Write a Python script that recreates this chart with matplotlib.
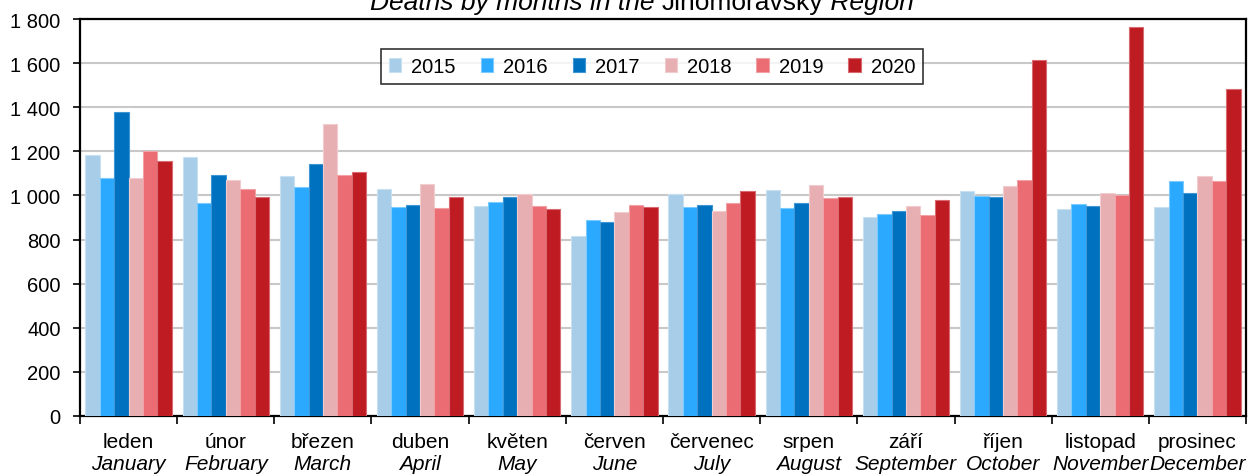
import matplotlib
matplotlib.use("Agg")
import matplotlib.pyplot as plt
import numpy as np
from matplotlib.ticker import FuncFormatter, MultipleLocator

months_cz = ["leden", "únor", "březen", "duben", "květen", "červen", "červenec",
             "srpen", "září", "říjen", "listopad", "prosinec"]
months_en = ["January", "February", "March", "April", "May", "June", "July",
             "August", "September", "October", "November", "December"]
years = ["2015", "2016", "2017", "2018", "2019", "2020"]

d2015 = [1184, 1173, 1088, 1029, 950, 817, 1008, 1023, 901, 1019, 937, 947]
d2016 = [1078, 964, 1037, 946, 970, 887, 949, 941, 916, 997, 961, 1066]
d2017 = [1380, 1094, 1144, 955, 991, 881, 955, 966, 928, 993, 950, 1011]
d2018 = [1078, 1070, 1323, 1052, 1005, 923, 928, 1046, 954, 1043, 1011, 1088]
d2019 = [1203, 1028, 1091, 941, 950, 958, 966, 987, 910, 1069, 1003, 1064]
d2020 = [1156, 994, 1105, 993, 940, 949, 1022, 993, 981, 1615, 1765, 1482]
series = [d2015, d2016, d2017, d2018, d2019, d2020]

colors = ["#A8CDE8", "#2BA9FE", "#0071BF", "#E8AFB2", "#EB6C73", "#BE1B23"]
edges = ["#C9E0F1", "#7CCBFF", "#3F96D5", "#F1CDCF", "#F2A2A6", "#D86A70"]

plt.rcParams['font.family'] = ['Liberation Sans', 'DejaVu Sans']

fig = plt.figure(figsize=(12.58, 4.77), dpi=100)
ax = fig.add_axes([80/1258, 1-417/477, 1166/1258, 397/477])

n = len(series)
bw = 0.148
x = np.arange(len(months_cz))
for i, (vals, c, ec) in enumerate(zip(series, colors, edges)):
    ax.bar(x + (i - (n-1)/2)*bw, vals, width=bw, color=c, edgecolor=ec,
           linewidth=0.8, label=years[i], zorder=3)

ax.set_xlim(-0.5, len(months_cz)-0.5)
ax.set_ylim(0, 1800)
ax.yaxis.set_major_locator(MultipleLocator(200))
ax.yaxis.set_major_formatter(FuncFormatter(lambda v, p: f"{int(v):,}".replace(",", " ")))
ax.grid(axis='y', color='#C8C8C8', linewidth=1.5, zorder=0)
ax.set_axisbelow(True)

ax.set_xticks(np.arange(-0.5, len(months_cz)), minor=False)
ax.set_xticklabels([])
ax.tick_params(axis='x', which='major', length=6, width=1.2, direction='out')
ax.tick_params(axis='y', length=5, width=1.2, direction='out', labelsize=14.5, pad=9)
for s in ax.spines.values():
    s.set_linewidth(1.6)
    s.set_color('black')

for xi, cz, en in zip(x, months_cz, months_en):
    ax.annotate(cz, xy=(xi, 0), xycoords=('data', 'axes fraction'),
                xytext=(0, -31/1.389), textcoords='offset points',
                ha='center', va='baseline', fontsize=15)
    ax.annotate(en, xy=(xi, 0), xycoords=('data', 'axes fraction'),
                xytext=(0, -53/1.389), textcoords='offset points',
                ha='center', va='baseline', fontsize=15, style='italic')

leg = ax.legend(loc='center', bbox_to_anchor=((652-80)/1166, (417-67.5)/397),
                ncol=6, fontsize=14.5, frameon=True, fancybox=False,
                handlelength=0.6, handleheight=0.7, handletextpad=0.5,
                columnspacing=1.25, borderpad=0.4, edgecolor='black')
leg.get_frame().set_linewidth(1.2)

# Title with mixed styles (partly above the figure edge, as in the source)
parts = [("Deaths by months in the ", 'italic'), ("Jihomoravský", 'normal'), (" Region", 'italic')]
renderer = fig.canvas.get_renderer()
fs = 19
widths = []
for t, st in parts:
    tt = fig.text(0, 0, t, fontsize=fs, style=st)
    widths.append(tt.get_window_extent(renderer).width)
    tt.remove()
total = sum(widths)
cur = 642 - total/2
ypix = 477 - 10
for (t, st), w in zip(parts, widths):
    fig.text(cur/1258, ypix/477, t, fontsize=fs, style=st, ha='left', va='baseline')
    cur += w

fig.savefig("out.png", dpi=100)
